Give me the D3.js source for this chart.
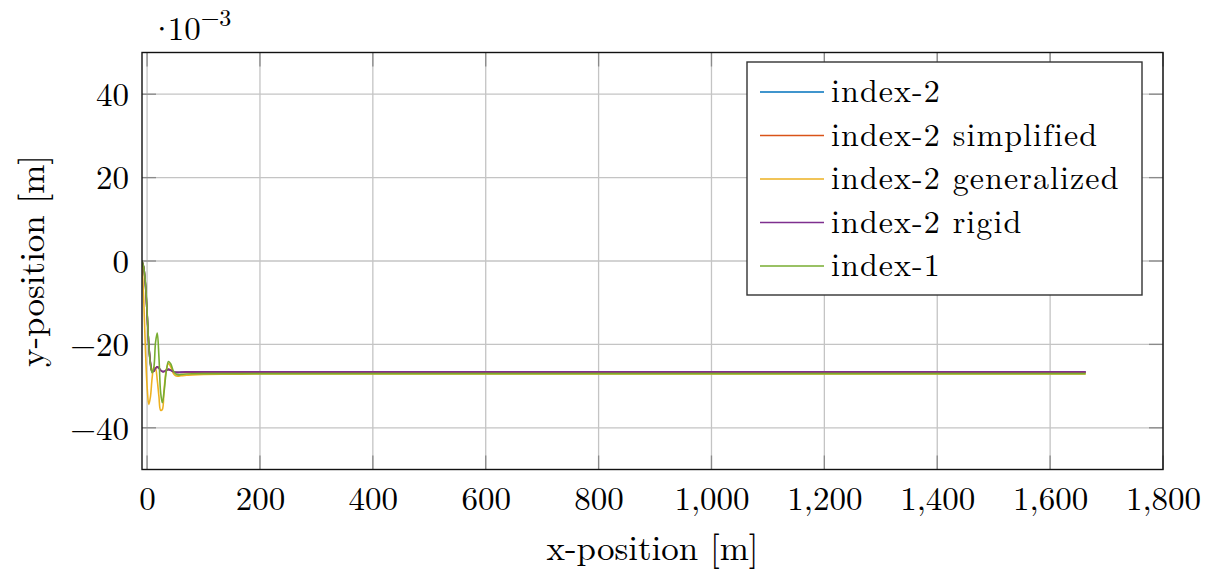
<!DOCTYPE html>
<html>
<head>
<meta charset="utf-8">
<script src="https://cdn.jsdelivr.net/npm/d3@7"></script>
<style>
  html, body { margin: 0; padding: 0; background: #fff; }
  svg text { font-family: "Latin Modern Roman", "CMU Serif", "Liberation Serif", "DejaVu Serif", serif; fill: #000; }
</style>
</head>
<body>
<svg id="chart" width="1210" height="570"></svg>
<script>
// Shared sample positions along the track [m]
const xPos = [-9, -6, -3, 0, 3, 6, 9, 12, 15, 18, 21, 24, 27, 30, 34, 38, 42, 46, 50, 55, 60, 70, 80, 100, 150, 200, 400, 800, 1200, 1663];

// Lateral position of each formulation, in units of 1e-3 m
const index2 = [0, -1.5, -5.5, -12.5, -20, -24.5, -26.5, -26.4, -25.7, -25.4, -25.7, -26.2, -26.5, -26.5, -26.2, -26.0, -26.2, -26.5, -26.7, -26.7, -26.7, -26.65, -26.65, -26.65, -26.65, -26.65, -26.65, -26.65, -26.65, -26.65];
const index2Simplified = [0, -1.5, -5.5, -12.5, -20, -24.5, -26.5, -26.4, -25.7, -25.4, -25.7, -26.2, -26.5, -26.5, -26.2, -26.0, -26.2, -26.5, -26.7, -26.75, -26.75, -26.7, -26.7, -26.7, -26.7, -26.7, -26.7, -26.7, -26.7, -26.7];
const index2Generalized = [0, -9, -21, -30, -34.4, -32.5, -28, -25.5, -25.8, -28.5, -32.5, -35.8, -35.6, -31, -26.2, -24.6, -25.4, -26.8, -27.5, -27.6, -27.5, -27.4, -27.3, -27.2, -27.15, -27.1, -27.1, -27.1, -27.1, -27.1];
const index2Rigid = [0, -1.5, -5.5, -12.5, -20, -24.5, -26.5, -26.4, -25.7, -25.4, -25.7, -26.2, -26.5, -26.5, -26.2, -26.0, -26.2, -26.5, -26.7, -26.7, -26.65, -26.6, -26.6, -26.6, -26.6, -26.6, -26.6, -26.6, -26.6, -26.6];
const index1 = [0, -1.5, -5, -12, -20, -25, -26.8, -25.5, -19.5, -17.3, -23, -31.5, -34, -31.5, -26.5, -24.1, -24.7, -26.2, -27, -27.3, -27.2, -27.1, -27.05, -27, -27, -27, -27, -27, -27, -27];

const seriesNames = ["index-2", "index-2 simplified", "index-2 generalized", "index-2 rigid", "index-1"];
const seriesColors = ["#0072BD", "#D95319", "#EDB120", "#7E2F8E", "#77AC30"];
const seriesValues = [index2, index2Simplified, index2Generalized, index2Rigid, index1];

const xTicks = [0, 200, 400, 600, 800, 1000, 1200, 1400, 1600, 1800];
const yTicks = [-40, -20, 0, 20, 40];

const svg = d3.select("#chart");
const margin = { left: 142, right: 1163, top: 52.5, bottom: 469.5 };

const x = d3.scaleLinear().domain([-9, 1800]).range([margin.left, margin.right]);
const y = d3.scaleLinear().domain([-50, 50]).range([margin.bottom, margin.top]);

const plotW = margin.right - margin.left;
const plotH = margin.bottom - margin.top;

// Grid
const grid = svg.append("g");
grid.selectAll("line.gx").data(xTicks).join("line")
  .attr("x1", d => x(d)).attr("x2", d => x(d))
  .attr("y1", margin.top).attr("y2", margin.bottom)
  .attr("stroke", "#c4c4c4").attr("stroke-width", 1.3);
grid.selectAll("line.gy").data(yTicks).join("line")
  .attr("x1", margin.left).attr("x2", margin.right)
  .attr("y1", d => y(d)).attr("y2", d => y(d))
  .attr("stroke", "#c4c4c4").attr("stroke-width", 1.3);

// Inward tick marks on all four sides
const tickLen = 14;
const tk = svg.append("g").attr("stroke", "#8a8a8a").attr("stroke-width", 1.3);
xTicks.forEach(t => {
  tk.append("line").attr("x1", x(t)).attr("x2", x(t)).attr("y1", margin.bottom).attr("y2", margin.bottom - tickLen);
  tk.append("line").attr("x1", x(t)).attr("x2", x(t)).attr("y1", margin.top).attr("y2", margin.top + tickLen);
});
yTicks.forEach(t => {
  tk.append("line").attr("x1", margin.left).attr("x2", margin.left + tickLen).attr("y1", y(t)).attr("y2", y(t));
  tk.append("line").attr("x1", margin.right).attr("x2", margin.right - tickLen).attr("y1", y(t)).attr("y2", y(t));
});

// Curves
svg.append("clipPath").attr("id", "plotclip").append("rect")
  .attr("x", margin.left).attr("y", margin.top).attr("width", plotW).attr("height", plotH);

const line = d3.line()
  .x((d, i) => x(xPos[i]))
  .y(d => y(d))
  .curve(d3.curveCatmullRom.alpha(0.5));

svg.append("g").attr("clip-path", "url(#plotclip)")
  .selectAll("path").data(seriesValues).join("path")
  .attr("d", d => line(d))
  .attr("fill", "none")
  .attr("stroke", (d, i) => seriesColors[i])
  .attr("stroke-width", 1.6)
  .attr("stroke-linejoin", "round");

// Axes (labels only; frame drawn separately)
const xAxis = d3.axisBottom(x).tickValues(xTicks).tickFormat(d3.format(",")).tickSize(0).tickPadding(17);
const gx = svg.append("g").attr("transform", `translate(0,${margin.bottom})`).call(xAxis);
gx.select(".domain").remove();
gx.selectAll("text").attr("font-size", 33).attr("font-family", null).attr("dy", "0.71em");

const yAxis = d3.axisLeft(y).tickValues(yTicks).tickFormat(d3.format("d")).tickSize(0).tickPadding(13);
const gy = svg.append("g").attr("transform", `translate(${margin.left},0)`).call(yAxis);
gy.select(".domain").remove();
gy.selectAll("text").attr("font-size", 33).attr("font-family", null).attr("dy", "0.34em");

// Frame
svg.append("rect")
  .attr("x", margin.left).attr("y", margin.top).attr("width", plotW).attr("height", plotH)
  .attr("fill", "none").attr("stroke", "#111").attr("stroke-width", 1.4);

// Axis titles
svg.append("text").attr("x", (margin.left + margin.right) / 2).attr("y", 560)
  .attr("text-anchor", "middle").attr("font-size", 35).text("x-position [m]");
svg.append("text").attr("transform", `translate(44,${(margin.top + margin.bottom) / 2}) rotate(-90)`)
  .attr("text-anchor", "middle").attr("font-size", 35).text("y-position [m]");

// Scale factor for the y values (tight dot before the power of ten)
const sf = svg.append("text").attr("x", 149).attr("y", 40).attr("font-size", 33);
sf.append("tspan").attr("letter-spacing", -7).text("·");
sf.append("tspan").text("10");
sf.append("tspan").attr("font-size", 24).attr("dy", -14).text("−3");

// Legend
const lg = svg.append("g");
lg.append("rect").attr("x", 747).attr("y", 62).attr("width", 395).attr("height", 233)
  .attr("fill", "#fff").attr("stroke", "#333").attr("stroke-width", 1.4);
const rowY = d3.scaleLinear().domain([0, 4]).range([92, 266]);
seriesNames.forEach((name, i) => {
  const ry = rowY(i);
  lg.append("line").attr("x1", 760).attr("x2", 824).attr("y1", ry).attr("y2", ry)
    .attr("stroke", seriesColors[i]).attr("stroke-width", 1.4);
  lg.append("text").attr("x", 831).attr("y", ry).attr("dy", "0.32em")
    .attr("font-size", 32).attr("letter-spacing", 1.1).text(name);
});
</script>
</body>
</html>
